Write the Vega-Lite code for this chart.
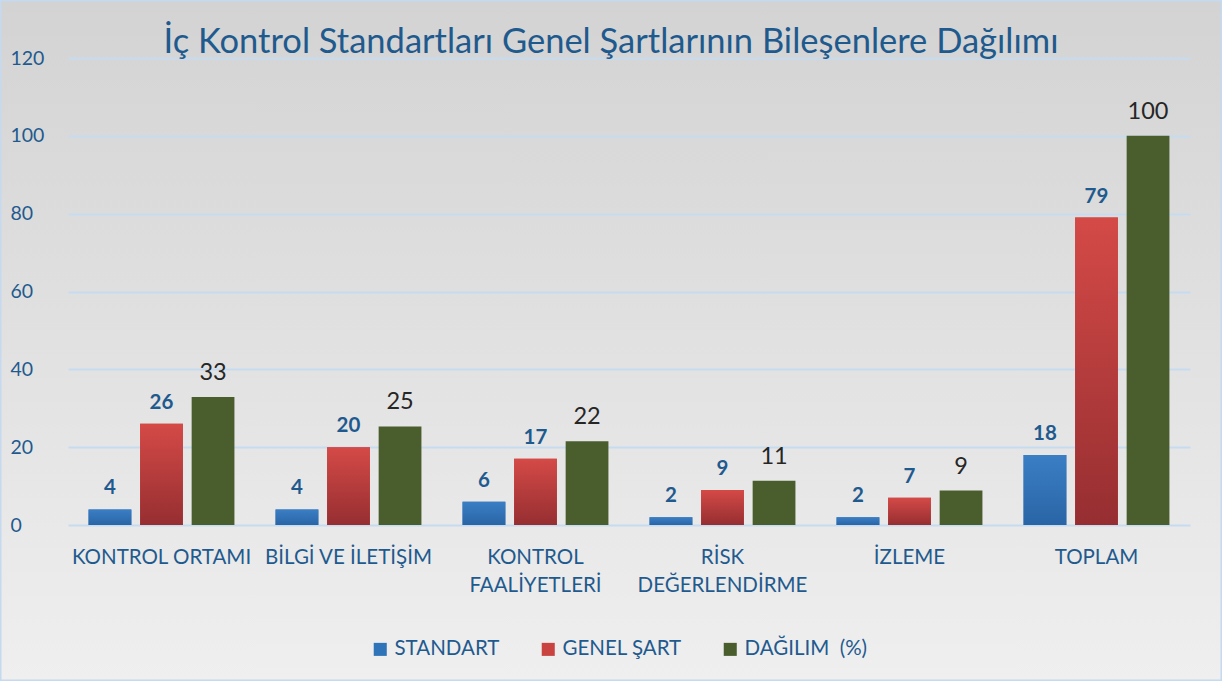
{
  "$schema": "https://vega.github.io/schema/vega-lite/v6.json",
  "width": 1222,
  "height": 681,
  "autosize": "none",
  "padding": 0,
  "background": "#e0e0e0",
  "config": {
    "font": "Lato",
    "view": {
      "fill": {"gradient": "linear", "x1": 0, "y1": 0, "x2": 0, "y2": 1, "stops": [{"offset": 0, "color": "#d3d3d3"}, {"offset": 1, "color": "#efefef"}]},
      "stroke": "#c5daf0",
      "strokeWidth": 3
    }
  },
  "title": {
    "text": "İç Kontrol Standartları Genel Şartlarının Bileşenlere Dağılımı",
    "font": "Lato",
    "fontSize": 34.5,
    "fontWeight": "normal",
    "color": "#1f5a8e",
    "anchor": "middle",
    "frame": "group",
    "orient": "top",
    "baseline": "alphabetic",
    "offset": -87
  },
  "data": {
    "values": [
      {"cat": "KONTROL ORTAMI", "series": "STANDART", "value": 4},
      {"cat": "KONTROL ORTAMI", "series": "GENEL ŞART", "value": 26},
      {"cat": "KONTROL ORTAMI", "series": "DAĞILIM (%)", "value": 32.91},
      {"cat": "BİLGİ VE İLETİŞİM", "series": "STANDART", "value": 4},
      {"cat": "BİLGİ VE İLETİŞİM", "series": "GENEL ŞART", "value": 20},
      {"cat": "BİLGİ VE İLETİŞİM", "series": "DAĞILIM (%)", "value": 25.32},
      {"cat": "KONTROL FAALİYETLERİ", "series": "STANDART", "value": 6},
      {"cat": "KONTROL FAALİYETLERİ", "series": "GENEL ŞART", "value": 17},
      {"cat": "KONTROL FAALİYETLERİ", "series": "DAĞILIM (%)", "value": 21.52},
      {"cat": "RİSK DEĞERLENDİRME", "series": "STANDART", "value": 2},
      {"cat": "RİSK DEĞERLENDİRME", "series": "GENEL ŞART", "value": 9},
      {"cat": "RİSK DEĞERLENDİRME", "series": "DAĞILIM (%)", "value": 11.39},
      {"cat": "İZLEME", "series": "STANDART", "value": 2},
      {"cat": "İZLEME", "series": "GENEL ŞART", "value": 7},
      {"cat": "İZLEME", "series": "DAĞILIM (%)", "value": 8.86},
      {"cat": "TOPLAM", "series": "STANDART", "value": 18},
      {"cat": "TOPLAM", "series": "GENEL ŞART", "value": 79},
      {"cat": "TOPLAM", "series": "DAĞILIM (%)", "value": 100}
    ]
  },
  "encoding": {
    "x": {
      "field": "cat",
      "type": "nominal",
      "sort": null,
      "scale": {"range": [68, 1190], "paddingInner": 0.22, "paddingOuter": 0.11},
      "axis": {
        "title": null,
        "orient": "bottom",
        "offset": -156,
        "domain": false,
        "ticks": false,
        "labelAngle": 0,
        "labelPadding": 22,
        "labelBaseline": "top",
        "labelFont": "Lato",
        "labelFontSize": 20.5,
        "labelColor": "#1f5a8e",
        "labelLineHeight": 28,
        "labelExpr": "datum.label == 'KONTROL FAALİYETLERİ' ? ['KONTROL', 'FAALİYETLERİ'] : datum.label == 'RİSK DEĞERLENDİRME' ? ['RİSK', 'DEĞERLENDİRME'] : datum.label"
      }
    },
    "xOffset": {
      "field": "series",
      "type": "nominal",
      "scale": {"domain": ["STANDART", "GENEL ŞART", "DAĞILIM (%)"], "paddingInner": 0.17, "paddingOuter": 0}
    },
    "y": {
      "field": "value",
      "type": "quantitative",
      "scale": {"domain": [0, 120], "range": [525, 58], "nice": false},
      "axis": {
        "title": null,
        "orient": "left",
        "offset": -10,
        "values": [0, 20, 40, 60, 80, 100, 120],
        "domain": false,
        "ticks": false,
        "tickSize": 0,
        "labelPadding": 0,
        "labelAlign": "left",
        "labelFont": "Lato",
        "labelFontSize": 19.5,
        "labelColor": "#1f5a8e",
        "grid": true,
        "gridColor": "#c5dcf0",
        "gridWidth": 2
      }
    }
  },
  "layer": [
    {
      "mark": {"type": "bar"},
      "encoding": {
        "color": {
          "field": "series",
          "type": "nominal",
          "scale": {"domain": ["STANDART", "GENEL ŞART", "DAĞILIM (%)"], "range": ["#2f74b8", "#c94340", "#4a5e2d"]},
          "legend": {
            "title": null,
            "orient": "none",
            "direction": "horizontal",
            "legendX": 370,
            "legendY": 639,
            "padding": 0,
            "symbolType": "square",
            "symbolSize": 170,
            "symbolStrokeWidth": 0,
            "columnPadding": 38,
            "labelFont": "Lato",
            "labelFontSize": 20.5,
            "labelColor": "#1f5a8e",
            "labelOffset": 4,
            "labelExpr": "datum.label == 'DAĞILIM (%)' ? 'DAĞILIM\u00a0 (%)' : datum.label"
          }
        }
      }
    },
    {
      "transform": [{"filter": "datum.series == 'STANDART'"}],
      "mark": {"type": "bar", "fill": {"gradient": "linear", "x1": 0, "y1": 0, "x2": 0, "y2": 1, "stops": [{"offset": 0, "color": "#3b7ec4"}, {"offset": 1, "color": "#2965a6"}]}}
    },
    {
      "transform": [{"filter": "datum.series == 'GENEL ŞART'"}],
      "mark": {"type": "bar", "fill": {"gradient": "linear", "x1": 0, "y1": 0, "x2": 0, "y2": 1, "stops": [{"offset": 0, "color": "#d44a47"}, {"offset": 1, "color": "#962e31"}]}}
    },
    {
      "transform": [{"filter": "datum.series != 'DAĞILIM (%)'"}],
      "mark": {"type": "text", "baseline": "alphabetic", "dy": -15, "font": "Lato", "fontSize": 20.5, "fontWeight": "bold", "color": "#1f5a8e"},
      "encoding": {"text": {"field": "value", "type": "quantitative", "format": ".0f"}}
    },
    {
      "transform": [{"filter": "datum.series == 'DAĞILIM (%)'"}],
      "mark": {"type": "text", "baseline": "alphabetic", "dy": -17, "font": "Lato", "fontSize": 23.5, "color": "#262626"},
      "encoding": {"text": {"field": "value", "type": "quantitative", "format": ".0f"}}
    }
  ]
}
